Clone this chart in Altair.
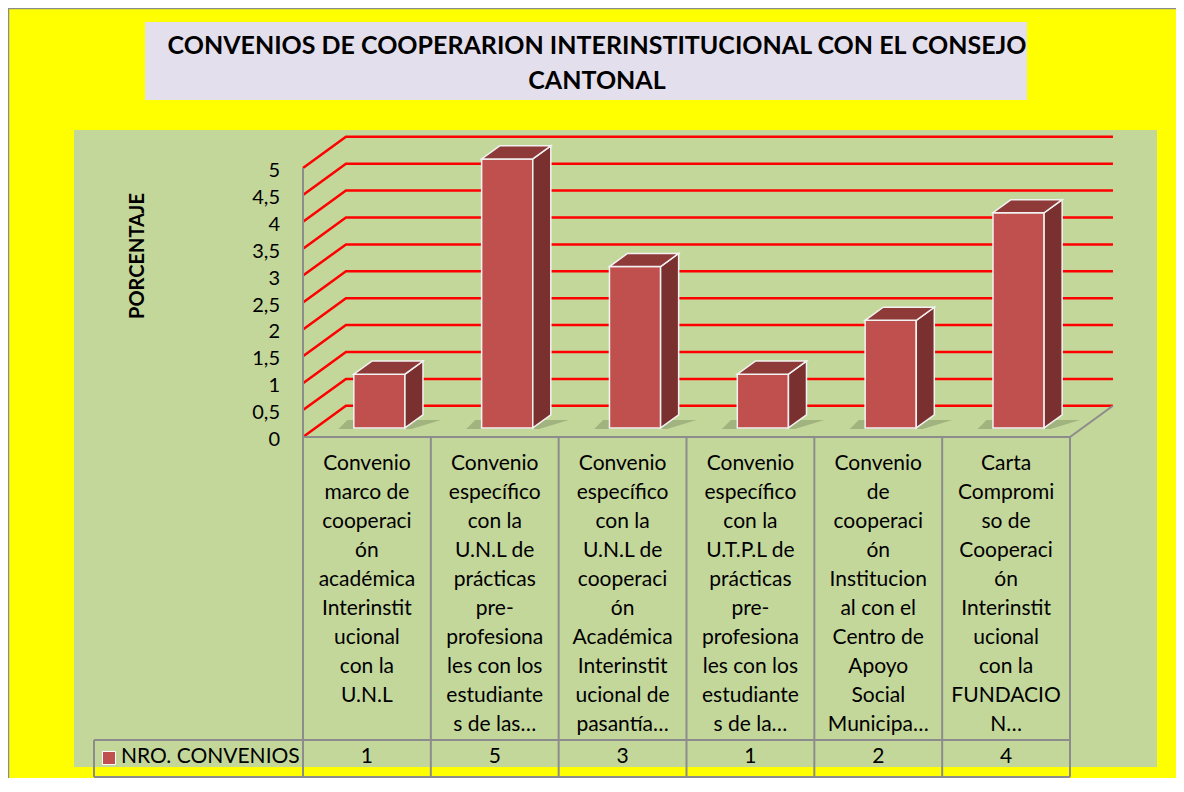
import altair as alt
import pandas as pd

# ---------------- data ----------------
TITLE_LINES = ["CONVENIOS DE COOPERARION INTERINSTITUCIONAL CON EL CONSEJO", "CANTONAL"]
Y_TITLE = "PORCENTAJE"
SERIES_NAME = "NRO. CONVENIOS"
CATEGORY_LINES = [
    ["Convenio", "marco de", "cooperaci", "ón", "académica", "Interinstit", "ucional", "con la", "U.N.L"],
    ["Convenio", "específico", "con la", "U.N.L de", "prácticas", "pre-", "profesiona", "les con los", "estudiante", "s de las…"],
    ["Convenio", "específico", "con la", "U.N.L de", "cooperaci", "ón", "Académica", "Interinstit", "ucional de", "pasantía…"],
    ["Convenio", "específico", "con la", "U.T.P.L de", "prácticas", "pre-", "profesiona", "les con los", "estudiante", "s de la…"],
    ["Convenio", "de", "cooperaci", "ón", "Institucion", "al con el", "Centro de", "Apoyo", "Social", "Municipa…"],
    ["Carta", "Compromi", "so de", "Cooperaci", "ón", "Interinstit", "ucional", "con la", "FUNDACIO", "N…"],
]
VALUES = [1, 5, 3, 1, 2, 4]
Y_TICKS = [0, 0.5, 1, 1.5, 2, 2.5, 3, 3.5, 4, 4.5, 5]
Y_TICK_LABELS = ["0", "0,5", "1", "1,5", "2", "2,5", "3", "3,5", "4", "4,5", "5"]

# ---------------- style / geometry ----------------
FONT = "Lato"
W, H = 1168, 770
N = len(VALUES)
DX, DY = 0.336, 0.58          # depth of the 3D floor, in data units
F_FRONT, F_DEPTH = 0.29, 0.42  # bar position inside the depth
BAR_W = 0.40

XS = alt.Scale(domain=[0, N], range=[295, 1062], nice=False, zero=False)
YS = alt.Scale(domain=[0, 5], range=[429, 160], nice=False, zero=False)

one = pd.DataFrame({"a": [0]})

def X(f):
    return alt.X(f, type="quantitative", scale=XS, axis=None)

def Y(f):
    return alt.Y(f, type="quantitative", scale=YS, axis=None)

# backgrounds
plot_bg = alt.Chart(one).mark_rect(color="#C4D79B").encode(
    x=alt.value(66), x2=alt.value(1149), y=alt.value(122), y2=alt.value(759))
title_bg = alt.Chart(one).mark_rect(color="#E4DFEC").encode(
    x=alt.value(137), x2=alt.value(1019), y=alt.value(14), y2=alt.value(92))
frame_top = alt.Chart(one).mark_rule(color="#8C8C8C", strokeWidth=1.5).encode(
    x=alt.value(0), x2=alt.value(W), y=alt.value(0.5))
frame_left = alt.Chart(one).mark_rule(color="#8C8C8C", strokeWidth=1.5).encode(
    x=alt.value(0.5), y=alt.value(0), y2=alt.value(H))

title = alt.Chart(pd.DataFrame({"t": ["\n".join(TITLE_LINES)]})).mark_text(
    font=FONT, fontWeight="bold", fontSize=25, align="center", baseline="alphabetic",
    lineBreak="\n", lineHeight=35, color="black").encode(
    x=alt.value(589), y=alt.value(46), text="t:N")

# gridlines (front-left diagonal + back wall)
grid_rows = []
for k in Y_TICKS:
    grid_rows += [
        {"g": k, "o": 0, "x": 0, "y": k},
        {"g": k, "o": 1, "x": DX, "y": k + DY},
        {"g": k, "o": 2, "x": N + DX, "y": k + DY},
    ]
grid = alt.Chart(pd.DataFrame(grid_rows)).mark_line(color="#FF0000", strokeWidth=2.5).encode(
    x=X("x"), y=Y("y"), detail="g:N", order="o:Q")

# floor edges and value axis line
edges = pd.DataFrame([
    {"e": "axis", "o": 0, "x": 0, "y": 0}, {"e": "axis", "o": 1, "x": 0, "y": 5},
    {"e": "right", "o": 0, "x": N, "y": 0}, {"e": "right", "o": 1, "x": N + DX, "y": DY},
])
edge_lines = alt.Chart(edges).mark_line(color="#8C8C8C", strokeWidth=2).encode(
    x=X("x"), y=Y("y"), detail="e:N", order="o:Q")

# bars
front_rows, side_rows, top_rows, shadow_rows = [], [], [], []
sx, sy = F_DEPTH * DX, F_DEPTH * DY
for i, v in enumerate(VALUES):
    xl = i + 0.5 - BAR_W / 2 + F_FRONT * DX
    xr = xl + BAR_W
    yb = F_FRONT * DY
    yt = v + yb
    front_rows.append({"b": i, "x": xl, "x2": xr, "y": yb, "y2": yt})
    side_rows += [{"b": i, "x": xr, "y": yb, "y2": yt},
                  {"b": i, "x": xr + sx, "y": yb + sy, "y2": yt + sy}]
    top_rows += [{"b": i, "y": yt, "x": xl, "x2": xr},
                 {"b": i, "y": yt + sy, "x": xl + sx, "x2": xr + sx}]
    shadow_rows += [{"b": i, "y": yb - 0.02, "x": xl - 0.12, "x2": xr + 0.05},
                    {"b": i, "y": yb + sy * 0.6, "x": xl - 0.05, "x2": xr + sx + 0.14}]

shadow = alt.Chart(pd.DataFrame(shadow_rows)).mark_area(
    orient="horizontal", color="#4F5F3A", opacity=0.3).encode(
    y=Y("y"), x=X("x"), x2="x2:Q", detail="b:N")

bar_front = alt.Chart(pd.DataFrame(front_rows)).mark_rect(
    color="#C0504D", stroke="#F2F2F2", strokeWidth=1.5).encode(
    x=X("x"), x2="x2:Q", y=Y("y"), y2="y2:Q")
bar_side = alt.Chart(pd.DataFrame(side_rows)).mark_area(
    color="#7B3030", stroke="#F2F2F2", strokeWidth=1.5, opacity=1).encode(
    x=X("x"), y=Y("y"), y2="y2:Q", detail="b:N")
bar_top = alt.Chart(pd.DataFrame(top_rows)).mark_area(
    orient="horizontal", color="#8E3A39", stroke="#F2F2F2", strokeWidth=1.5, opacity=1).encode(
    y=Y("y"), x=X("x"), x2="x2:Q", detail="b:N")

# value axis labels and title
ylab = alt.Chart(pd.DataFrame({"v": Y_TICKS, "t": Y_TICK_LABELS})).mark_text(
    font=FONT, fontSize=20, align="right", baseline="middle", dy=3, color="black").encode(
    x=alt.value(272), y=Y("v"), text="t:N")
ytitle = alt.Chart(pd.DataFrame({"t": [Y_TITLE]})).mark_text(
    font=FONT, fontSize=20, fontWeight="bold", angle=270, align="center", baseline="middle",
    color="black").encode(x=alt.value(130), y=alt.value(248), text="t:N")

# category labels (data table header)
cat_df = pd.DataFrame({"c": [i + 0.5 for i in range(N)],
                       "t": ["\n".join(l) for l in CATEGORY_LINES],
                       "v": [str(v) for v in VALUES]})
cat_text = alt.Chart(cat_df).mark_text(
    font=FONT, fontSize=21, align="center", baseline="alphabetic", lineBreak="\n",
    lineHeight=29, color="black").encode(x=X("c"), y=alt.value(462), text="t:N")
val_text = alt.Chart(cat_df).mark_text(
    font=FONT, fontSize=21, align="center", baseline="middle", color="black").encode(
    x=X("c"), y=alt.value(749), text="v:N")

# table lines
tgrid = dict(color="#8C8C8C", strokeWidth=2)
vlines = alt.Chart(pd.DataFrame({"b": list(range(N + 1))})).mark_rule(**tgrid).encode(
    x=X("b"), y=alt.value(429), y2=alt.value(769))
floor_front = alt.Chart(one).mark_rule(**tgrid).encode(
    x=alt.value(295), x2=alt.value(1062), y=alt.value(429))
h1 = alt.Chart(one).mark_rule(**tgrid).encode(x=alt.value(86), x2=alt.value(1062), y=alt.value(732))
h2 = alt.Chart(one).mark_rule(**tgrid).encode(x=alt.value(86), x2=alt.value(1062), y=alt.value(769))
vl = alt.Chart(one).mark_rule(**tgrid).encode(x=alt.value(86), y=alt.value(732), y2=alt.value(769))

swatch = alt.Chart(one).mark_square(size=170, color="#C0504D", stroke="white",
                                    strokeWidth=1, opacity=1).encode(
    x=alt.value(101), y=alt.value(750))
series = alt.Chart(pd.DataFrame({"t": [SERIES_NAME]})).mark_text(
    font=FONT, fontSize=21, align="left", baseline="middle", color="black").encode(
    x=alt.value(113), y=alt.value(749), text="t:N")

chart = alt.layer(
    plot_bg, title_bg, frame_top, frame_left, title,
    grid, shadow, edge_lines, bar_front, bar_side, bar_top,
    ylab, ytitle, cat_text, val_text,
    vlines, floor_front, h1, h2, vl, swatch, series,
).properties(
    width=W, height=H, background="#FFFF00", padding=0,
    autosize=alt.AutoSizeParams(type="none"),
).configure_view(stroke=None)

chart.save("out.html", embed_options={"renderer": "svg", "actions": False})
